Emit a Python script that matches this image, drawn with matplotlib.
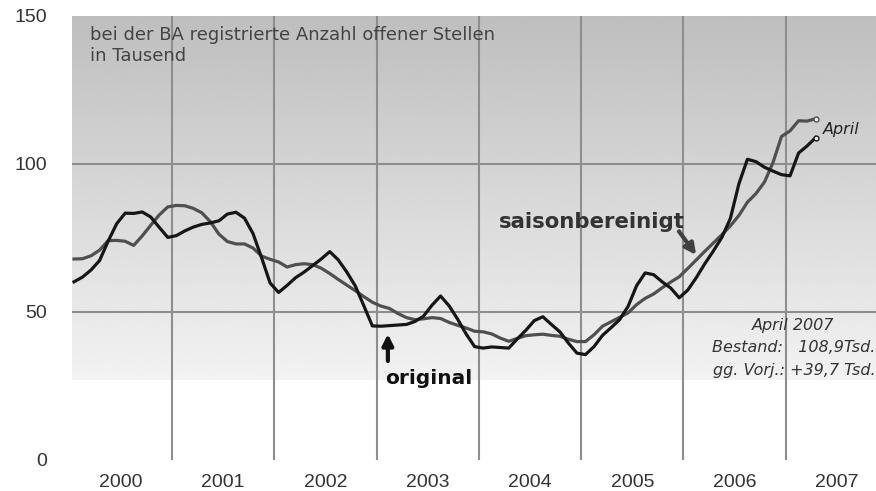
import numpy as np
import matplotlib
matplotlib.use('Agg')
import matplotlib.pyplot as plt

plt.rcParams['font.family'] = ['Liberation Sans', 'DejaVu Sans']

# monthly values Jan 2000 .. Apr 2007, in thousand
original = [60.2, 61.8, 64.2, 67.4, 73.9, 79.8, 83.4, 83.3, 83.8, 82.1, 78.6, 75.2,
            75.8, 77.4, 78.7, 79.6, 80.1, 80.8, 83.1, 83.7, 81.7, 76.5, 68.4, 59.8,
            56.6, 59.0, 61.6, 63.5, 65.7, 67.9, 70.4, 67.6, 63.5, 58.8, 52.1, 45.3,
            45.2, 45.4, 45.6, 45.8, 46.8, 48.6, 52.3, 55.4, 52.1, 47.6, 42.6, 38.3,
            37.8, 38.2, 38.0, 37.8, 40.9, 43.8, 47.1, 48.4, 45.8, 43.3, 39.5, 36.1,
            35.6, 38.3, 42.1, 44.7, 47.4, 51.9, 58.9, 63.2, 62.6, 60.2, 58.1, 54.8,
            57.4, 61.6, 66.3, 70.6, 75.2, 81.6, 93.3, 101.6, 100.8, 98.9, 97.6, 96.4,
            96.0, 103.7, 106.1, 108.9]
saisonbereinigt = [67.9, 68.0, 69.0, 70.9, 74.1, 74.2, 73.9, 72.5, 75.7, 79.3, 82.8, 85.5,
                   86.0, 85.9, 85.0, 83.5, 80.5, 76.3, 73.8, 73.0, 73.0, 71.6, 68.9, 67.8,
                   66.9, 65.2, 66.0, 66.3, 66.0, 64.8, 63.0, 61.0, 59.1, 57.2, 55.2, 53.3,
                   52.0, 51.2, 49.5, 48.1, 47.4, 47.7, 48.1, 47.8, 46.5, 45.5, 44.6, 43.5,
                   43.3, 42.6, 41.2, 40.1, 41.1, 42.0, 42.3, 42.5, 42.1, 41.8, 40.8, 40.0,
                   40.0, 42.3, 45.2, 46.7, 48.2, 49.7, 52.5, 54.6, 56.1, 58.2, 60.1, 61.9,
                   64.7, 67.6, 70.5, 73.3, 76.1, 79.1, 82.6, 87.1, 90.0, 93.9, 100.5, 109.3,
                   111.2, 114.6, 114.5, 115.3]
years = [2000, 2001, 2002, 2003, 2004, 2005, 2006, 2007]
yticks = [0, 50, 100, 150]

t = 2000 + (np.arange(len(original)) + 0.5) / 12

fig = plt.figure(figsize=(8.76, 4.91), dpi=100)
ax = fig.add_axes([72/876, 31/491, 804/876, 444/491])
x0, x1 = 2000.022, 2007.882

# grey gradient background, dark at the top
grad = np.linspace(0.745, 0.95, 200).reshape(-1, 1)
ax.imshow(grad, extent=[x0, x1, 27, 150], cmap='gray', vmin=0, vmax=1,
          aspect='auto', zorder=0, interpolation='bilinear', origin='upper')
ax.set_ylim(0, 150)
ax.set_xlim(x0, x1)

for y in [50, 100]:
    ax.axhline(y, color='#8e8e8e', lw=1.5, zorder=1)
for yr in years[1:]:
    ax.axvline(yr, color='#8e8e8e', lw=1.5, zorder=1)

ax.plot(t, saisonbereinigt, color='#4f4f4f', lw=2.3, zorder=3)
ax.plot(t, original, color='#161616', lw=2.3, zorder=4)
ax.plot(t[-1], saisonbereinigt[-1], 'o', ms=3.5, mfc='white', mec='#4f4f4f', mew=1, zorder=5)
ax.plot(t[-1], original[-1], 'o', ms=3.5, mfc='white', mec='#161616', mew=1, zorder=5)

for s in ax.spines.values():
    s.set_visible(False)
ax.set_yticks(yticks)
ax.set_yticklabels([str(v) for v in yticks], fontsize=14, color='#333333')
ax.set_xticks([y + 0.5 for y in years])
ax.set_xticklabels([str(y) for y in years], fontsize=14, color='#333333')
ax.tick_params(length=0)
ax.tick_params(axis='y', pad=18)
ax.tick_params(axis='x', pad=10)

ax.text(2000.2, 146.5, 'bei der BA registrierte Anzahl offener Stellen\nin Tausend',
        fontsize=13, family='DejaVu Sans', color='#444444', va='top', ha='left',
        linespacing=1.2)

ax.text(2004.2, 80.5, 'saisonbereinigt', fontsize=15.3, family='DejaVu Sans',
        fontweight='bold', color='#333333', ha='left', va='center')
ax.annotate('', xy=(2006.14, 68.5), xytext=(2005.94, 78),
            arrowprops=dict(arrowstyle='-|>', color='#404040', lw=3, mutation_scale=16))

ax.text(2003.08, 27.5, 'original', fontsize=14.5, family='DejaVu Sans',
        fontweight='bold', color='#111111', ha='left', va='center')
ax.annotate('', xy=(2003.11, 43.5), xytext=(2003.11, 32.5),
            arrowprops=dict(arrowstyle='-|>', color='#111111', lw=3, mutation_scale=16))

ax.text(2007.36, 111.5, 'April', fontsize=11.5, style='italic', family='DejaVu Sans',
        color='#222222', ha='left', va='center')

ax.text(2007.07, 45.5, 'April 2007', fontsize=11.5, style='italic', family='DejaVu Sans',
        color='#333333', ha='center', va='center')
ax.text(2007.875, 38, 'Bestand:   108,9Tsd.', fontsize=11.5, style='italic',
        family='DejaVu Sans', color='#333333', ha='right', va='center')
ax.text(2007.875, 30.3, 'gg. Vorj.: +39,7 Tsd.', fontsize=11.5, style='italic',
        family='DejaVu Sans', color='#333333', ha='right', va='center')

fig.savefig('out.png', dpi=100)
